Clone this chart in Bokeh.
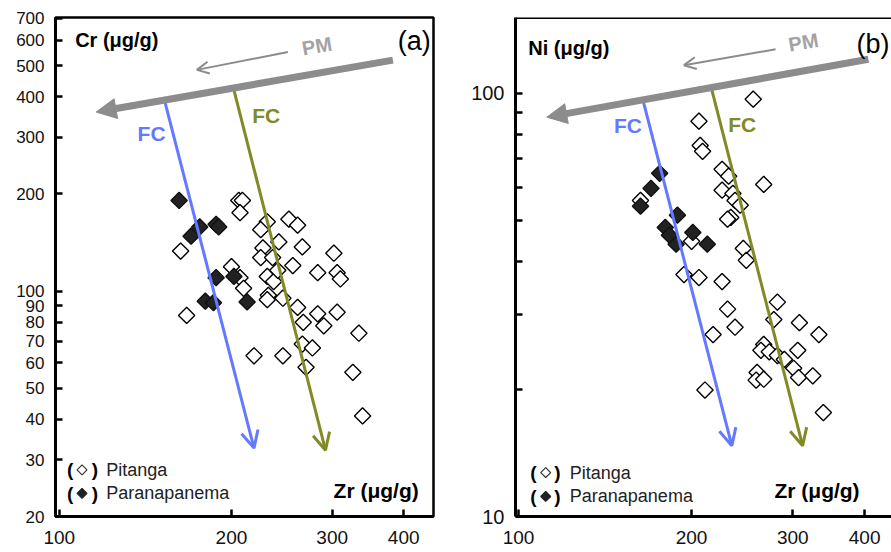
import math
from bokeh.plotting import figure
from bokeh.models import (FixedTicker, Range1d, Label, Arrow, NormalHead, OpenHead, Span,
                          PrintfTickFormatter)
from bokeh.layouts import row
from bokeh.embed import file_html
from bokeh.resources import INLINE

# ---------------- Panel (a): Cr vs Zr ----------------
a_pit_zr = [206, 209, 207, 163, 231, 225, 252, 261, 242, 227, 266, 302, 225, 236, 256, 283,
            306, 310, 200, 207, 210, 231, 237, 232, 231, 246, 167, 261, 267, 283, 290, 306,
            334, 219, 246, 266, 277, 270, 326, 339, 241]
a_pit_cr = [191, 191, 175, 133, 164, 155, 167, 160, 142, 136, 137, 131, 127, 127, 120, 114,
            114, 109, 119, 110, 102, 111, 107, 97, 94, 95, 84, 89, 80, 85, 78, 86,
            74, 63, 63, 68.5, 66.6, 58, 56, 41, 116]
a_par_zr = [162, 176, 170, 188, 190, 188, 202, 180, 186, 213]
a_par_cr = [191, 158, 148, 161, 158, 110, 111, 93, 92, 92.5]

# ---------------- Panel (b): Ni vs Zr ----------------
b_pit_zr = [256, 206, 207, 209, 226, 232, 267, 226, 236, 238, 243, 234, 231, 246, 249, 200,
            163, 194, 206, 226, 231, 238, 218, 211, 282, 278, 308, 333, 267, 264, 273, 282,
            290, 306, 301, 307, 325, 260, 259, 267, 339]
b_pit_ni = [96.8, 85.9, 75.3, 72.9, 66.1, 63.7, 60.9, 59.0, 58.0, 55.8, 54.4, 50.9, 50.4, 43.0, 40.3, 44.7,
            55.8, 37.3, 36.7, 35.9, 30.9, 28.0, 26.9, 19.9, 32.1, 29.2, 28.7, 26.9, 25.5, 24.7, 24.5, 24.0,
            23.5, 24.7, 22.4, 21.3, 21.5, 21.9, 21.0, 21.1, 17.6]
b_par_zr = [176, 170, 163, 189, 180, 188, 201, 213, 183]
b_par_ni = [64.7, 59.6, 54.1, 51.5, 48.2, 44.0, 46.9, 44.0, 46.2]

x_ticks = [100, 200, 300, 400]
a_y_ticks = [20, 30, 40, 50, 60, 70, 80, 90, 100, 200, 300, 400, 500, 600, 700]
b_y_ticks = [10, 100]
b_y_minor = [20, 30, 40, 50, 60, 70, 80, 90]

FONT = "Liberation Sans"
BLUE = "#6479ff"
OLIVE = "#818a26"
GRAY = "#8c8c8c"
PMGRAY = "#a3a3a3"


def style_axes(p, yfont):
    p.grid.visible = False
    for ax in (p.xaxis[0], p.yaxis[0]):
        ax.axis_line_width = 3
        ax.axis_line_color = "black"
        ax.major_tick_in = 7
        ax.major_tick_out = 0
        ax.major_tick_line_width = 2.5
        ax.minor_tick_in = 7
        ax.minor_tick_out = 0
        ax.minor_tick_line_width = 2.5
        ax.major_label_text_font = FONT
        ax.major_label_text_color = "#111111"
        ax.formatter = PrintfTickFormatter(format="%d")
    p.xaxis[0].major_label_text_font_size = "19px"
    p.xaxis[0].major_label_standoff = 14
    p.yaxis[0].major_label_text_font_size = yfont
    p.yaxis[0].major_label_standoff = 11


def lab(p, x, y, text, size, color="black", bold=False, align="left", angle=0.0):
    p.add_layout(Label(x=x, y=y, text=text, text_font=FONT, text_font_size=size,
                       text_color=color, text_font_style="bold" if bold else "normal",
                       text_align=align, text_baseline="middle", angle=angle))


def panel(p, pit_x, pit_y, par_x, par_y, size):
    p.scatter(pit_x, pit_y, marker="square", angle=math.pi / 4, size=size,
              fill_color="white", line_color="black", line_width=1.4)
    p.scatter(par_x, par_y, marker="square", angle=math.pi / 4, size=size,
              fill_color="#222222", line_color="#111111", line_width=1.4)


# ---------------- figure (a) ----------------
p1 = figure(width=443, height=552, x_axis_type="log", y_axis_type="log",
            x_range=Range1d(98.5, 451), y_range=Range1d(20, 705),
            output_backend="svg", toolbar_location=None,
            min_border_left=55, min_border_right=10, min_border_top=17, min_border_bottom=36)
p1.outline_line_color = "black"
p1.outline_line_width = 2.5
p1.xaxis[0].ticker = FixedTicker(ticks=x_ticks)
p1.yaxis[0].ticker = FixedTicker(ticks=a_y_ticks)
style_axes(p1, "17px")
panel(p1, a_pit_zr, a_pit_cr, a_par_zr, a_par_cr, 11.5)

# FC arrows
p1.add_layout(Arrow(x_start=153, y_start=386, x_end=219, y_end=32.6, line_color=BLUE, line_width=3,
                    end=OpenHead(size=17, line_color=BLUE, line_width=3)))
p1.add_layout(Arrow(x_start=202, y_start=420, x_end=292, y_end=32.1, line_color=OLIVE, line_width=3,
                    end=OpenHead(size=17, line_color=OLIVE, line_width=3)))
# PM arrows
p1.add_layout(Arrow(x_start=383, y_start=520, x_end=116, y_end=359, line_color=GRAY, line_width=7,
                    end=NormalHead(size=20, fill_color=GRAY, line_color=GRAY, line_width=1)))
p1.add_layout(Arrow(x_start=251, y_start=551, x_end=174, y_end=485, line_color=GRAY, line_width=2,
                    end=OpenHead(size=12, line_color=GRAY, line_width=2)))

lab(p1, 106.6, 600, "Cr (\u03bcg/g)", "20px", bold=True)
lab(p1, 446, 596, "(a)", "27px", align="right")
lab(p1, 282, 575, "PM", "20px", color=PMGRAY, bold=True, align="center", angle=0.17)
lab(p1, 145, 309, "FC", "21px", color=BLUE, bold=True, align="center")
lab(p1, 230, 351, "FC", "21px", color=OLIVE, bold=True, align="center")
lab(p1, 425, 24.0, "Zr (\u03bcg/g)", "21px", bold=True, align="right")

# legend (a)
a_leg_y = [27.9, 23.6]
for yy in a_leg_y:
    lab(p1, 104.5, yy, "(", "19px", bold=True, align="center")
    lab(p1, 115.4, yy, ")", "19px", bold=True, align="center")
p1.scatter([109.6], [a_leg_y[0]], marker="square", angle=math.pi / 4, size=7,
           fill_color="white", line_color="#333333", line_width=1.2)
p1.scatter([109.6], [a_leg_y[1]], marker="square", angle=math.pi / 4, size=7,
           fill_color="#222222", line_color="#222222", line_width=1.2)
lab(p1, 120.8, a_leg_y[0], "Pitanga", "18px", color="#222222")
lab(p1, 120.8, a_leg_y[1], "Paranapanema", "18px", color="#222222")

# ---------------- figure (b) ----------------
p2 = figure(width=448, height=552, x_axis_type="log", y_axis_type="log",
            x_range=Range1d(98.8, 445.4), y_range=Range1d(10, 151),
            output_backend="svg", toolbar_location=None,
            min_border_left=72, min_border_right=0, min_border_top=17, min_border_bottom=36)
p2.outline_line_color = None
p2.xaxis[0].ticker = FixedTicker(ticks=x_ticks)
p2.yaxis[0].ticker = FixedTicker(ticks=b_y_ticks, minor_ticks=b_y_minor)
style_axes(p2, "20px")
p2.add_layout(Span(location=151, dimension="width", line_color="black", line_width=3))
panel(p2, b_pit_zr, b_pit_ni, b_par_zr, b_par_ni, 11.5)

p2.add_layout(Arrow(x_start=165, y_start=95.2, x_end=235, y_end=14.7, line_color=BLUE, line_width=3,
                    end=OpenHead(size=17, line_color=BLUE, line_width=3)))
p2.add_layout(Arrow(x_start=217, y_start=101.6, x_end=312, y_end=14.7, line_color=OLIVE, line_width=3,
                    end=OpenHead(size=17, line_color=OLIVE, line_width=3)))
p2.add_layout(Arrow(x_start=406, y_start=120.3, x_end=112, y_end=87.8, line_color=GRAY, line_width=7,
                    end=NormalHead(size=20, fill_color=GRAY, line_color=GRAY, line_width=1)))
p2.add_layout(Arrow(x_start=280, y_start=127, x_end=194, y_end=116.5, line_color=GRAY, line_width=2,
                    end=OpenHead(size=12, line_color=GRAY, line_width=2)))

lab(p2, 104, 127.7, "Ni (\u03bcg/g)", "20px", bold=True)
lab(p2, 442, 130.6, "(b)", "27px", align="right")
lab(p2, 313, 132, "PM", "20px", color=PMGRAY, bold=True, align="center", angle=0.17)
lab(p2, 155, 84.0, "FC", "21px", color=BLUE, bold=True, align="center")
lab(p2, 245, 84.5, "FC", "21px", color=OLIVE, bold=True, align="center")
lab(p2, 392, 11.5, "Zr (\u03bcg/g)", "21px", bold=True, align="right")

b_leg_y = [12.7, 11.15]
for yy in b_leg_y:
    lab(p2, 106.2, yy, "(", "19px", bold=True, align="center")
    lab(p2, 116.9, yy, ")", "19px", bold=True, align="center")
p2.scatter([111.5], [b_leg_y[0]], marker="square", angle=math.pi / 4, size=7,
           fill_color="white", line_color="#333333", line_width=1.2)
p2.scatter([111.5], [b_leg_y[1]], marker="square", angle=math.pi / 4, size=7,
           fill_color="#222222", line_color="#222222", line_width=1.2)
lab(p2, 122.8, b_leg_y[0], "Pitanga", "18px", color="#222222")
lab(p2, 122.8, b_leg_y[1], "Paranapanema", "18px", color="#222222")

layout = row(p1, p2)
open("out.html", "w").write(file_html(layout, INLINE))
